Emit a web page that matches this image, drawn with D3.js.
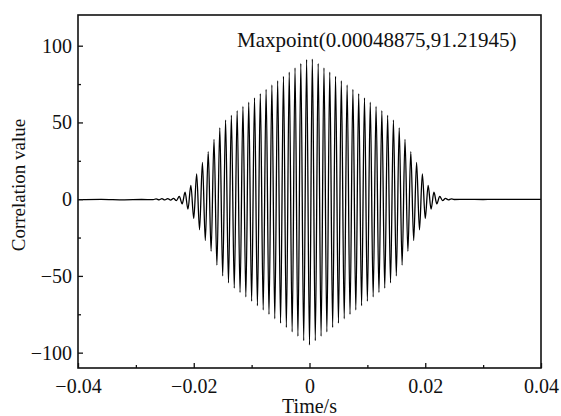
<!DOCTYPE html>
<html>
<head>
<meta charset="utf-8">
<script src="https://cdn.jsdelivr.net/npm/d3@7"></script>
<style>
  body { margin: 0; background: #fff; }
  text { font-family: "Liberation Serif", "Times New Roman", serif; fill: #111; }
</style>
</head>
<body>
<div id="figure"></div>
<script>
// extrema of the correlation curve (time in s)
var extremaTime = [
    -0.040, -0.036, -0.032, -0.029, -0.027, -0.0265, -0.026, -0.0255, -0.025, -0.0245, -0.024, -0.0235, -0.023,
    -0.0225, -0.022, -0.0215, -0.021, -0.0205, -0.020, -0.0195, -0.019, -0.0185, -0.018, -0.0175, -0.017,
    -0.0165, -0.016, -0.0155, -0.015, -0.0145, -0.014, -0.0135, -0.013, -0.0125, -0.012, -0.0115, -0.011,
    -0.0105, -0.010, -0.0095, -0.009, -0.0085, -0.008, -0.0075, -0.007, -0.0065, -0.006, -0.0055, -0.005,
    -0.0045, -0.004, -0.0035, -0.003, -0.0025, -0.002, -0.0015, -0.001, -0.0005, 0,
    0.00048875, 0.001, 0.0015, 0.002, 0.0025, 0.003, 0.0035, 0.004, 0.0045, 0.005, 0.0055, 0.006,
    0.0065, 0.007, 0.0075, 0.008, 0.0085, 0.009, 0.0095, 0.010, 0.0105, 0.011, 0.0115, 0.012,
    0.0125, 0.013, 0.0135, 0.014, 0.0145, 0.015, 0.0155, 0.016, 0.0165, 0.017, 0.0175, 0.018,
    0.0185, 0.019, 0.0195, 0.020, 0.0205, 0.021, 0.0215, 0.022, 0.0225, 0.023,
    0.0235, 0.024, 0.0245, 0.025, 0.027, 0.030, 0.034, 0.040
];
var extremaValue = [
    -0.3, -0.1, -0.4, -0.2, -0.3, 0.2, -0.4, 0.3, -0.5, 0.4, -0.6, 0.5, -0.9,
    1.8, -3.0, 4.5, -6.5, 9.0, -12.5, 16.5, -20.0, 24.0, -27.0, 31.0, -34.0,
    39.0, -43.0, 46.5, -50.0, 51.5, -54.5, 54.6, -58.0, 57.6, -60.8, 60.4, -63.7,
    63.2, -66.5, 66.0, -69.4, 68.8, -72.2, 71.6, -75.1, 74.4, -77.9, 77.2, -80.8,
    80.0, -83.6, 82.8, -86.5, 85.6, -89.3, 88.4, -92.2, 91.0, -95.0,
    91.21945, -92.2, 88.4, -89.3, 85.6, -86.5, 82.8, -83.6, 80.0, -80.8, 77.2, -77.9,
    74.4, -75.1, 71.6, -72.2, 68.8, -69.4, 66.0, -66.5, 63.2, -63.7, 60.4, -60.8,
    57.6, -58.0, 54.6, -54.5, 51.5, -50.0, 46.5, -43.0, 39.0, -34.0, 31.0, -27.0,
    24.0, -20.0, 16.5, -12.5, 9.0, -6.5, 4.5, -3.0, 1.8, -0.9,
    0.5, -0.4, 0.2, -0.2, -0.1, -0.2, -0.1, -0.1
];

var xTicks = [-0.04, -0.02, 0, 0.02, 0.04];
var xTickLabels = ["\u22120.04", "\u22120.02", "0", "0.02", "0.04"];
var xMinorTicks = [-0.03, -0.01, 0.01, 0.03];
var yTicks = [-100, -50, 0, 50, 100];
var yTickLabels = ["\u2212100", "\u221250", "0", "50", "100"];
var yMinorTicks = [-75, -25, 25, 75];
var maxLabel = "Maxpoint(0.00048875,91.21945)";

var w = 561;
var h = 416;
var plotLeft = 78, plotRight = 541, plotTop = 15, plotBottom = 368;

var svg = d3.select("#figure")
    .append("svg")
    .attr("width", w)
    .attr("height", h);

var xScale = d3.scaleLinear()
    .domain([-0.04, 0.04])
    .range([plotLeft, plotRight]);

var yScale = d3.scaleLinear()
    .domain([-110, 120])
    .range([plotBottom, plotTop]);

var data = extremaTime.map(function(t, i) {
    return { time: t, value: extremaValue[i] };
});

// signal
svg.append("path")
    .datum(data)
    .attr("fill", "none")
    .attr("stroke", "#000")
    .attr("stroke-width", 1.3)
    .attr("d", d3.line()
        .curve(d3.curveMonotoneX)
        .x(function(d) { return xScale(d.time); })
        .y(function(d) { return yScale(d.value); }));

// axes, ticks inward
var xAxis = d3.axisBottom(xScale)
    .tickValues(xTicks)
    .tickFormat(function(d, i) { return xTickLabels[i]; })
    .tickSize(-5)
    .tickPadding(11);
var gx = svg.append("g")
    .attr("transform", "translate(0," + plotBottom + ")")
    .call(xAxis);

var gxm = svg.append("g")
    .attr("transform", "translate(0," + plotBottom + ")")
    .call(d3.axisBottom(xScale).tickValues(xMinorTicks).tickFormat("").tickSize(-3));

var yAxis = d3.axisLeft(yScale)
    .tickValues(yTicks)
    .tickFormat(function(d, i) { return yTickLabels[i]; })
    .tickSize(-5)
    .tickPadding(6);
var gy = svg.append("g")
    .attr("transform", "translate(" + plotLeft + ",0)")
    .call(yAxis);

var gym = svg.append("g")
    .attr("transform", "translate(" + plotLeft + ",0)")
    .call(d3.axisLeft(yScale).tickValues(yMinorTicks).tickFormat("").tickSize(-3));

[gx, gxm, gy, gym].forEach(function(g) {
    g.select(".domain").remove();
    g.selectAll("line").attr("stroke", "#111").attr("stroke-width", 1.3);
    g.selectAll("text")
        .style("font-size", "20px")
        .style("font-family", "'Liberation Serif', 'Times New Roman', serif")
        .attr("fill", "#111");
});

// frame
svg.append("rect")
    .attr("x", plotLeft)
    .attr("y", plotTop)
    .attr("width", plotRight - plotLeft)
    .attr("height", plotBottom - plotTop)
    .attr("fill", "none")
    .attr("stroke", "#111")
    .attr("stroke-width", 1.6);

// titles
svg.append("text")
    .attr("x", (plotLeft + plotRight) / 2)
    .attr("y", 413)
    .attr("text-anchor", "middle")
    .style("font-size", "20px")
    .text("Time/s");

svg.append("text")
    .attr("transform", "translate(25,185) rotate(-90)")
    .attr("text-anchor", "middle")
    .style("font-size", "19px")
    .text("Correlation value");

svg.append("text")
    .attr("x", 237)
    .attr("y", 47)
    .style("font-size", "21px")
    .text(maxLabel);
</script>
</body>
</html>
